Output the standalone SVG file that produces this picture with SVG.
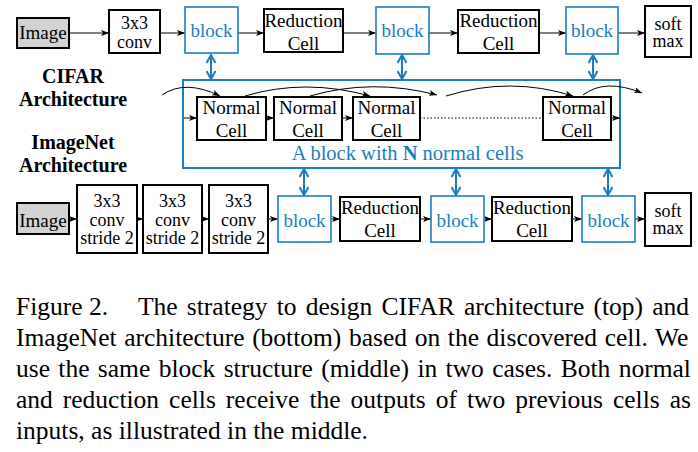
<svg xmlns="http://www.w3.org/2000/svg" width="698" height="452" viewBox="0 0 698 452" font-family="'Liberation Serif', 'Times New Roman', serif">
<defs>
<style>
text{font-family:"Liberation Serif","Times New Roman",serif;fill:#000}
.t{font-family:"Liberation Serif","Times New Roman",serif;font-size:19px;text-anchor:middle}
.s{font-size:18px}
.b{fill:#1b7ec2}
.h{font-family:"Liberation Serif","Times New Roman",serif;font-size:20px;font-weight:bold;text-anchor:middle}
.cap{font-family:"Liberation Serif","Times New Roman",serif;font-size:25.5px}
.box{fill:#fff;stroke:#000;stroke-width:2}
.img{fill:#d3d3d3;stroke:#000;stroke-width:2}
.blk{fill:#fff;stroke:#1b7ec2;stroke-width:1.6}
.ar{fill:none;stroke:#000;stroke-width:1;marker-end:url(#ah)}
.da{fill:none;stroke:#1b7ec2;stroke-width:2;marker-start:url(#bh);marker-end:url(#bh)}
</style>
<marker id="ah" viewBox="0 0 8 6" refX="8" refY="3" markerWidth="8" markerHeight="6" markerUnits="userSpaceOnUse" orient="auto">
<path d="M0,0 L8,3 L0,6 L2,3 z" fill="#000"/>
</marker>
<marker id="bh" viewBox="0 0 10 10" refX="9" refY="5" markerWidth="10" markerHeight="10" markerUnits="userSpaceOnUse" orient="auto-start-reverse">
<path d="M1,0.5 L9,5 L1,9.5" fill="none" stroke="#1b7ec2" stroke-width="2"/>
</marker>
</defs>
<rect width="698" height="452" fill="#fff"/>

<g id="labels">
<text class="h" x="73" y="83">CIFAR</text>
<text class="h" x="73" y="106">Architecture</text>
<text class="h" x="73" y="149">ImageNet</text>
<text class="h" x="73" y="172">Architecture</text>
</g>

<g id="block-frame">
<rect x="183" y="80" width="437" height="88" fill="none" stroke="#1b7ec2" stroke-width="2"/>
<text class="t b" x="407.5" y="160" style="font-size:20.5px">A block with <tspan font-weight="bold">N</tspan> normal cells</text>
</g>

<g id="connectors">
<line class="ar" x1="69" y1="33" x2="109" y2="33"/>
<line class="ar" x1="160" y1="33" x2="185" y2="33"/>
<line class="ar" x1="238" y1="33" x2="264" y2="33"/>
<line class="ar" x1="343" y1="33" x2="376" y2="33"/>
<line class="ar" x1="429" y1="33" x2="458" y2="33"/>
<line class="ar" x1="539" y1="33" x2="566" y2="33"/>
<line class="ar" x1="618" y1="33" x2="645" y2="33"/>

<line class="ar" x1="69" y1="219" x2="77" y2="219"/>
<line class="ar" x1="137" y1="219" x2="143" y2="219"/>
<line class="ar" x1="202" y1="219" x2="209" y2="219"/>
<line class="ar" x1="268" y1="219" x2="278" y2="219"/>
<line class="ar" x1="331" y1="219" x2="340" y2="219"/>
<line class="ar" x1="420" y1="219" x2="431" y2="219"/>
<line class="ar" x1="484" y1="219" x2="492" y2="219"/>
<line class="ar" x1="572" y1="219" x2="582" y2="219"/>
<line class="ar" x1="635" y1="219" x2="645" y2="219"/>

<line class="ar" x1="184" y1="118" x2="197" y2="118"/>
<line class="ar" x1="266" y1="118" x2="274" y2="118"/>
<line class="ar" x1="342" y1="118" x2="353" y2="118"/>
<line class="ar" x1="611" y1="118" x2="620" y2="118"/>
<line x1="420" y1="118" x2="543" y2="118" stroke="#000" stroke-width="1" stroke-dasharray="1.5,2"/>

<path class="ar" d="M162,95 Q185,79 220,96"/>
<path class="ar" d="M245,96 Q305,78 370,96"/>
<path class="ar" d="M310,96 Q372,78 437,95"/>
<path class="ar" d="M446,96 Q510,76 573,96"/>
<path class="ar" d="M583,95 Q605,78 642,93"/>

<line class="da" x1="211" y1="55" x2="211" y2="79"/>
<line class="da" x1="402" y1="55" x2="402" y2="79"/>
<line class="da" x1="593" y1="55" x2="593" y2="79"/>
<line class="da" x1="304" y1="169" x2="304" y2="195"/>
<line class="da" x1="456" y1="169" x2="456" y2="195"/>
<line class="da" x1="608" y1="169" x2="608" y2="195"/>
</g>

<g id="top-image"><rect class="img" x="17" y="18" width="52" height="30"/><text class="t" x="43" y="39">Image</text></g>
<g id="top-conv"><rect class="box" x="109" y="10" width="51" height="43"/><text class="t s" x="134.5" y="29">3x3</text><text class="t s" x="134.5" y="48">conv</text></g>
<g id="top-block1"><rect class="blk" x="185" y="7" width="53" height="46"/><text class="t b" x="211.5" y="37">block</text></g>
<g id="top-red1"><rect class="box" x="264" y="9" width="79" height="43"/><text class="t" x="303.5" y="27">Reduction</text><text class="t" x="303.5" y="50">Cell</text></g>
<g id="top-block2"><rect class="blk" x="376" y="7" width="53" height="47"/><text class="t b" x="402.5" y="37">block</text></g>
<g id="top-red2"><rect class="box" x="458" y="10" width="81" height="43"/><text class="t" x="498.5" y="27">Reduction</text><text class="t" x="498.5" y="50">Cell</text></g>
<g id="top-block3"><rect class="blk" x="566" y="7" width="52" height="47"/><text class="t b" x="592" y="37">block</text></g>
<g id="top-softmax"><rect class="box" x="645" y="6" width="46" height="51"/><text class="t s" x="668" y="30">soft</text><text class="t s" x="668" y="47">max</text></g>

<g id="normal1"><rect class="box" x="197" y="97" width="69" height="43"/><text class="t" x="231.5" y="114">Normal</text><text class="t" x="231.5" y="137">Cell</text></g>
<g id="normal2"><rect class="box" x="274" y="97" width="68" height="43"/><text class="t" x="308" y="114">Normal</text><text class="t" x="308" y="137">Cell</text></g>
<g id="normal3"><rect class="box" x="353" y="97" width="67" height="43"/><text class="t" x="386.5" y="114">Normal</text><text class="t" x="386.5" y="137">Cell</text></g>
<g id="normal4"><rect class="box" x="543" y="97" width="68" height="43"/><text class="t" x="577" y="114">Normal</text><text class="t" x="577" y="137">Cell</text></g>

<g id="bot-image"><rect class="img" x="17" y="203" width="52" height="31"/><text class="t" x="43" y="227">Image</text></g>
<g id="bot-conv1"><rect class="box" x="77" y="185" width="60" height="68"/><text class="t s" x="107" y="207">3x3</text><text class="t s" x="107" y="226">conv</text><text class="t s" x="107" y="244">stride 2</text></g>
<g id="bot-conv2"><rect class="box" x="143" y="185" width="59" height="68"/><text class="t s" x="172.5" y="207">3x3</text><text class="t s" x="172.5" y="226">conv</text><text class="t s" x="172.5" y="244">stride 2</text></g>
<g id="bot-conv3"><rect class="box" x="209" y="185" width="59" height="68"/><text class="t s" x="238.5" y="207">3x3</text><text class="t s" x="238.5" y="226">conv</text><text class="t s" x="238.5" y="244">stride 2</text></g>
<g id="bot-block1"><rect class="blk" x="278" y="196" width="53" height="46"/><text class="t b" x="304.5" y="227">block</text></g>
<g id="bot-red1"><rect class="box" x="340" y="197" width="80" height="44"/><text class="t" x="380" y="214">Reduction</text><text class="t" x="380" y="237">Cell</text></g>
<g id="bot-block2"><rect class="blk" x="431" y="196" width="53" height="46"/><text class="t b" x="457.5" y="227">block</text></g>
<g id="bot-red2"><rect class="box" x="492" y="197" width="80" height="44"/><text class="t" x="532" y="214">Reduction</text><text class="t" x="532" y="237">Cell</text></g>
<g id="bot-block3"><rect class="blk" x="582" y="196" width="53" height="46"/><text class="t b" x="608.5" y="227">block</text></g>
<g id="bot-softmax"><rect class="box" x="645" y="193" width="46" height="53"/><text class="t s" x="668" y="217">soft</text><text class="t s" x="668" y="234">max</text></g>

<g id="caption">
<text class="cap" x="16" y="315">Figure 2.</text>
<text class="cap" x="138" y="315" style="word-spacing:2.81px">The strategy to design CIFAR architecture (top) and</text>
<text class="cap" x="16" y="346" style="word-spacing:1.26px">ImageNet architecture (bottom) based on the discovered cell. We</text>
<text class="cap" x="16" y="377" style="word-spacing:1.99px">use the same block structure (middle) in two cases. Both normal</text>
<text class="cap" x="16" y="408" style="word-spacing:3.62px">and reduction cells receive the outputs of two previous cells as</text>
<text class="cap" x="16" y="439">inputs, as illustrated in the middle.</text>
</g>
</svg>
